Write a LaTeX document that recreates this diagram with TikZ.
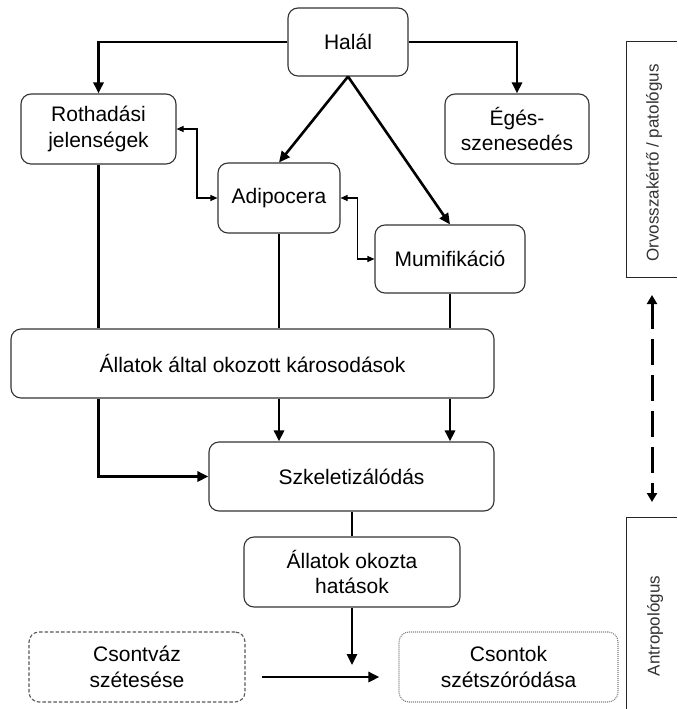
\documentclass[tikz,border=0pt]{standalone}
\usepackage{fontspec}
\setmainfont{Liberation Sans}
\usetikzlibrary{arrows.meta,calc}

\begin{document}
\begin{tikzpicture}[x=1pt,y=-1pt,
  box/.style={draw=black!80, line width=1.1pt, rounded corners=10pt, fill=white,
    align=center, inner sep=0pt, font=\fontsize{21}{25.5}\selectfont},
  dashbox/.style={box, draw=black!65, dash pattern=on 3.5pt off 2pt},
  dotbox/.style={box, draw=black!50, dash pattern=on 1pt off 1pt},
  flow/.style={line width=2.6pt, draw=black},
  flowarrow/.style={flow, -{Triangle[length=11pt,width=10pt]}},
  link/.style={line width=1.1pt, {Triangle[length=7pt,width=6pt]}-{Triangle[length=7pt,width=6pt]}},
  sidelabel/.style={rotate=90, text=black!80, font=\fontsize{17}{20}\selectfont},
  sideframe/.style={line width=1pt, draw=black!85},
  roleshift/.style={line width=3pt, dash pattern=on 26pt off 10pt,
    {Triangle[length=9pt,width=10pt]}-{Triangle[length=9pt,width=10pt]}}
]
\useasboundingbox[fill=white] (0,0) rectangle (677,709);

% process boxes
\node[box, minimum width=120pt, minimum height=68pt] (halal) at (348,42) {Halál};
\node[box, minimum width=155pt, minimum height=70pt] (roth) at (98.5,129) {Rothadási\\jelenségek};
\node[box, minimum width=144pt, minimum height=70pt] (eges) at (517,129) {Égés-\\szenesedés};
\node[box, minimum width=122pt, minimum height=70pt] (adip) at (279,198) {Adipocera};
\node[box, minimum width=150pt, minimum height=68pt] (mumif) at (450,259) {Mumifikáció};
\node[box, minimum width=483pt, minimum height=69pt] (allatok) at (252.5,363.5) {Állatok által okozott károsodások};
\node[box, minimum width=285pt, minimum height=69pt] (szkel) at (351.5,476.5) {Szkeletizálódás};
\node[box, minimum width=216pt, minimum height=70pt] (hatasok) at (352,572) {Állatok okozta\\hatások};
\node[dashbox, minimum width=216pt, minimum height=70pt] (csontvaz) at (137,667) {Csontváz\\szétesése};
\node[dotbox, minimum width=219pt, minimum height=70pt] (csontok) at (508.5,667) {Csontok\\szétszóródása};

% helper points for the thin two-way links and the free arrow end
\coordinate (k1) at (197,0);
\coordinate (k2) at (357.5,0);
\coordinate (drop) at (352,665);

% main flow
\draw[flowarrow] (halal.west) -| (roth.north);
\draw[flowarrow] (halal.east) -| (eges.north);
\draw[flowarrow] (halal.south) -- (adip.north);
\draw[flowarrow] (halal.south) -- (mumif.north);

\draw[link] (roth.east) -- (roth.east -| k1) -- (adip.west -| k1) -- (adip.west);
\draw[link] (adip.east) -- (adip.east -| k2) -- (mumif.west -| k2) -- (mumif.west);

\draw[flow] (roth.south) -- (roth.south |- allatok.north);
\draw[flow] (adip.south) -- (adip.south |- allatok.north);
\draw[flow] (mumif.south) -- (mumif.south |- allatok.north);

\draw[flowarrow] (allatok.south -| roth.south) |- (szkel.west);
\draw[flowarrow] (allatok.south -| adip.south) -- (szkel.north -| adip.south);
\draw[flowarrow] (allatok.south -| mumif.south) -- (szkel.north -| mumif.south);

\draw[flow] (szkel.south -| hatasok.north) -- (hatasok.north);
\draw[flowarrow] (hatasok.south) -- (drop);
\draw[flowarrow, shorten <=16pt, shorten >=19pt]
  ([yshift=-10pt]csontvaz.east) -- ([yshift=-10pt]csontok.west);

% responsibility column
\draw[sideframe] (677,42) -| (626,277) -- (677,277);
\node[sidelabel] (orvos) at (654,163) {Orvosszakértő / patológus};
\draw[sideframe] (677,517) -| (626,712);
\node[sidelabel] (antro) at (655,626) {Antropológus};
\coordinate (shiftTop) at (652,295);
\coordinate (shiftBot) at (652,502);
\draw[roleshift] (shiftTop) -- (shiftBot);
\end{tikzpicture}
\end{document}
